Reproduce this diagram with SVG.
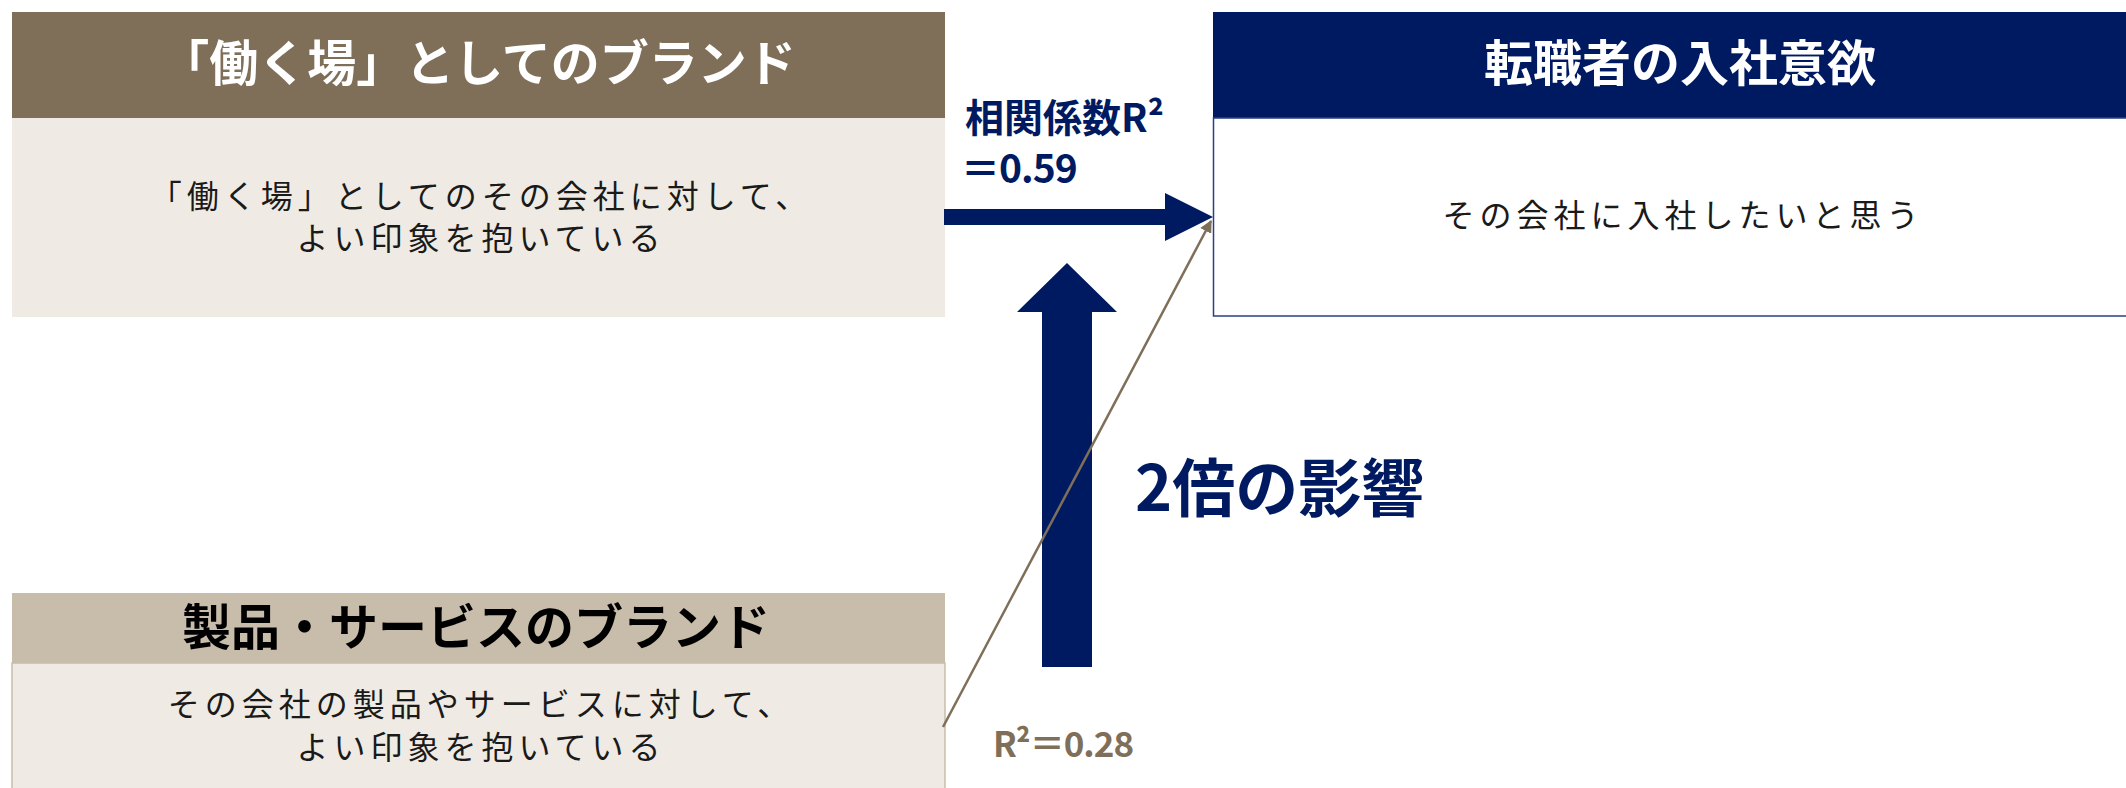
<svg xmlns="http://www.w3.org/2000/svg" width="2126" height="788" viewBox="0 0 2126 788">
<style>
text{font-family:"Noto Sans CJK JP","Noto Sans",sans-serif;text-anchor:middle}
.hd{font-size:49px;font-weight:700}
.bd{font-size:32px;font-weight:400;fill:#1a1a1a;letter-spacing:5px}
.lbl{font-weight:700;text-anchor:start}
</style>
<defs>
<marker id="ah" viewBox="0 0 10 10" refX="9" refY="5" markerWidth="5" markerHeight="5" orient="auto">
<path d="M0,0 L10,5 L0,10 z" fill="#7F6F59"/>
</marker>
</defs>
<rect width="2126" height="788" fill="#ffffff"/>
<g id="node-work">
<rect x="12" y="12" width="933" height="106" fill="#7F6F59"/>
<rect x="12" y="118" width="933" height="199" fill="#EFEBE4"/>
<text class="hd" x="478" y="81" fill="#ffffff">「働く場」としてのブランド</text>
<text class="bd" x="481" y="208">「働く場」としてのその会社に対して、</text>
<text class="bd" x="481" y="250">よい印象を抱いている</text>
</g>
<g id="node-product">
<rect x="12" y="593" width="933" height="70" fill="#C8BDAA"/>
<rect x="12" y="663" width="933" height="135" fill="#EFEBE4" stroke="#C8BDAA" stroke-width="1.5"/>
<text class="hd" x="476" y="645" fill="#000000">製品・サービスのブランド</text>
<text class="bd" x="481" y="716">その会社の製品やサービスに対して、</text>
<text class="bd" x="481" y="759">よい印象を抱いている</text>
</g>
<g id="node-intent">
<rect x="1213" y="12" width="930" height="106" fill="#001A62"/>
<rect x="1213.5" y="118" width="930" height="198" fill="#ffffff" stroke="#2B3F84" stroke-width="1.5"/>
<text class="hd" x="1680" y="81" fill="#ffffff">転職者の入社意欲</text>
<text class="bd" x="1683" y="227">その会社に入社したいと思う</text>
</g>
<g id="connectors">
<polygon points="944,209 1165,209 1165,193 1213,217 1165,241 1165,225 944,225" fill="#001A62"/>
<polygon points="1042,667 1042,312 1017,312 1067,263 1117,312 1092,312 1092,667" fill="#001A62"/>
<line x1="943" y1="727" x2="1211" y2="221" stroke="#7F6F59" stroke-width="2.5" marker-end="url(#ah)"/>
</g>
<g id="labels">
<text class="lbl" x="965" y="132" font-size="39" fill="#001A62">相関係数R²</text>
<text class="lbl" x="961" y="183" font-size="39" fill="#001A62" letter-spacing="-1">＝0.59</text>
<text class="lbl" x="1135" y="511" font-size="63" fill="#001A62">2倍の影響</text>
<text class="lbl" x="993" y="757" font-size="35" fill="#7F6F59" letter-spacing="-1">R²＝0.28</text>
</g>
</svg>
